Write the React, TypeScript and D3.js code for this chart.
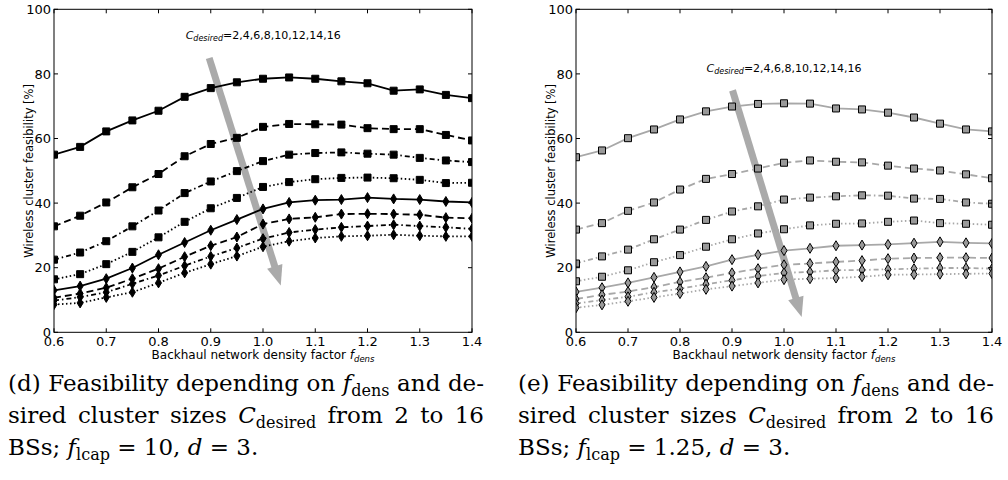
import React, { useEffect, useRef } from 'react';
import * as d3 from 'd3';

// Backhaul network density factor f_dens (x values shared by every series)
const fDens = [0.6, 0.65, 0.7, 0.75, 0.8, 0.85, 0.9, 0.95, 1.0, 1.05, 1.1, 1.15, 1.2, 1.25, 1.3, 1.35, 1.4];
const xTicks = [0.6, 0.7, 0.8, 0.9, 1.0, 1.1, 1.2, 1.3, 1.4];
const yTicks = [0, 20, 40, 60, 80, 100];
const clusterSizes = [2, 4, 6, 8, 10, 12, 14, 16];

// Wireless cluster feasibility [%], f_lcap = 10
const lcap10C2 = [55.0, 57.4, 62.2, 65.6, 68.6, 72.9, 75.6, 77.4, 78.5, 78.9, 78.5, 77.7, 77.1, 74.8, 75.2, 73.5, 72.5];
const lcap10C4 = [32.8, 36.1, 40.2, 44.9, 49.0, 54.5, 58.3, 60.2, 63.6, 64.5, 64.4, 64.3, 63.2, 62.9, 62.9, 61.1, 59.4];
const lcap10C6 = [22.5, 24.7, 28.2, 32.8, 37.7, 43.1, 46.7, 49.9, 53.0, 55.0, 55.5, 55.7, 55.3, 55.0, 54.0, 53.2, 52.7];
const lcap10C8 = [16.4, 18.0, 21.1, 24.9, 29.4, 34.2, 38.4, 41.6, 45.0, 46.5, 47.4, 47.8, 47.9, 47.7, 47.2, 46.2, 46.3];
const lcap10C10 = [13.0, 14.3, 16.6, 19.9, 24.0, 27.8, 31.6, 34.9, 38.2, 40.2, 40.9, 41.1, 41.7, 41.3, 41.1, 40.5, 40.2];
const lcap10C12 = [10.7, 12.0, 13.8, 16.6, 19.7, 23.4, 26.8, 29.5, 33.5, 35.1, 35.6, 36.6, 36.7, 36.6, 36.4, 35.5, 35.3];
const lcap10C14 = [9.8, 10.9, 12.4, 15.0, 17.6, 20.6, 23.5, 26.1, 29.0, 30.9, 31.8, 32.5, 32.9, 33.3, 32.9, 32.5, 32.0];
const lcap10C16 = [8.6, 9.1, 10.8, 12.4, 15.3, 18.4, 21.1, 23.6, 26.5, 28.2, 29.2, 29.7, 29.9, 30.2, 29.9, 29.7, 29.7];

// Wireless cluster feasibility [%], f_lcap = 1.25
const lcap125C2 = [54.2, 56.3, 60.1, 62.8, 65.9, 68.4, 69.9, 70.7, 70.9, 70.8, 69.3, 69.0, 68.0, 66.5, 64.6, 62.8, 62.2];
const lcap125C4 = [31.8, 33.8, 37.6, 40.2, 44.2, 47.5, 49.0, 50.7, 52.5, 53.2, 52.8, 52.6, 51.6, 50.7, 50.1, 48.9, 47.7];
const lcap125C6 = [21.3, 23.5, 25.6, 28.8, 31.8, 34.8, 37.4, 39.0, 41.1, 41.7, 42.1, 42.4, 42.3, 41.4, 41.3, 40.2, 39.8];
const lcap125C8 = [15.8, 17.2, 19.2, 21.7, 23.9, 26.5, 28.8, 30.6, 31.9, 33.1, 33.6, 33.7, 34.2, 34.6, 33.8, 33.6, 33.3];
const lcap125C10 = [12.5, 13.8, 15.3, 17.0, 18.7, 20.4, 22.5, 24.0, 25.3, 26.0, 26.8, 27.0, 27.2, 27.6, 28.0, 27.7, 27.5];
const lcap125C12 = [10.3, 11.6, 12.6, 14.0, 15.6, 16.9, 18.4, 19.7, 20.9, 21.3, 21.8, 22.2, 22.8, 23.0, 23.1, 23.1, 23.0];
const lcap125C14 = [8.9, 10.0, 11.0, 12.4, 13.5, 14.9, 16.1, 17.4, 18.4, 18.7, 19.2, 19.3, 19.5, 19.7, 19.9, 19.9, 19.7];
const lcap125C16 = [7.6, 8.5, 9.6, 10.8, 12.0, 13.3, 14.3, 15.3, 16.3, 16.6, 16.8, 17.2, 17.8, 17.9, 18.0, 18.1, 18.2];

// Trend arrow (start, tip) and annotation anchor, in data units
const arrowLcap10 = [[0.897, 84.9], [1.034, 14.5]];
const arrowLcap125 = [[0.901, 74.9], [1.034, 4.7]];
const noteAtLcap10 = [0.852, 90.9];
const noteAtLcap125 = [0.851, 80.6];

type Part = { t: string; kind?: 'it' | 'sub' };

const captionD: Part[][] = [
  [{ t: '(d) Feasibility depending on ' }, { t: 'f', kind: 'it' }, { t: 'dens', kind: 'sub' }, { t: ' and de-' }],
  [{ t: 'sired cluster sizes ' }, { t: 'C', kind: 'it' }, { t: 'desired', kind: 'sub' }, { t: ' from 2 to 16' }],
  [{ t: 'BSs; ' }, { t: 'f', kind: 'it' }, { t: 'lcap', kind: 'sub' }, { t: ' = 10, ' }, { t: 'd', kind: 'it' }, { t: ' = 3.' }],
];
const captionE: Part[][] = [
  [{ t: '(e) Feasibility depending on ' }, { t: 'f', kind: 'it' }, { t: 'dens', kind: 'sub' }, { t: ' and de-' }],
  [{ t: 'sired cluster sizes ' }, { t: 'C', kind: 'it' }, { t: 'desired', kind: 'sub' }, { t: ' from 2 to 16' }],
  [{ t: 'BSs; ' }, { t: 'f', kind: 'it' }, { t: 'lcap', kind: 'sub' }, { t: ' = 1.25, ' }, { t: 'd', kind: 'it' }, { t: ' = 3.' }],
];

const dashes = [null, '7,4', '5,3,1.5,3', '1.5,2.5'];
const squarePath = 'M-3.5,-3.5H3.5V3.5H-3.5Z';
const diamondPath = 'M0,-5L3,0L0,5L-3,0Z';

const SANS = 'DejaVu Sans, sans-serif';
const SERIF = 'DejaVu Serif, serif';

interface Panel {
  id: string;
  x0: number;
  x1: number;
  series: number[][];
  lineColor: string;
  markerFill: string;
  markerStroke: string;
  arrow: number[][];
  noteAt: number[];
  caption: Part[][];
  captionX: number;
}

const panels: Panel[] = [
  {
    id: 'lcap10',
    x0: 54,
    x1: 472,
    series: [lcap10C2, lcap10C4, lcap10C6, lcap10C8, lcap10C10, lcap10C12, lcap10C14, lcap10C16],
    lineColor: '#000',
    markerFill: '#000',
    markerStroke: '#000',
    arrow: arrowLcap10,
    noteAt: noteAtLcap10,
    caption: captionD,
    captionX: 8,
  },
  {
    id: 'lcap125',
    x0: 576,
    x1: 992,
    series: [lcap125C2, lcap125C4, lcap125C6, lcap125C8, lcap125C10, lcap125C12, lcap125C14, lcap125C16],
    lineColor: '#a8a8a8',
    markerFill: '#999',
    markerStroke: '#000',
    arrow: arrowLcap125,
    noteAt: noteAtLcap125,
    caption: captionE,
    captionX: 518,
  },
];

const TOP = 9.3;
const BOTTOM = 332.3;
const CAPTION_WIDTH = 476;
const CAPTION_BASELINES = [391, 423, 455];

function drawPanel(svg: d3.Selection<SVGSVGElement, unknown, null, undefined>, p: Panel) {
  const x = d3.scaleLinear().domain([0.6, 1.4]).range([p.x0, p.x1]);
  const y = d3.scaleLinear().domain([0, 100]).range([BOTTOM, TOP]);
  const g = svg.append('g');

  g.append('clipPath')
    .attr('id', `clip-${p.id}`)
    .append('rect')
    .attr('x', p.x0)
    .attr('y', TOP)
    .attr('width', p.x1 - p.x0)
    .attr('height', BOTTOM - TOP);

  const plot = g.append('g').attr('clip-path', `url(#clip-${p.id})`);

  // grey trend arrow, drawn beneath the series
  const a0 = [x(p.arrow[0][0]), y(p.arrow[0][1])];
  const a1 = [x(p.arrow[1][0]), y(p.arrow[1][1])];
  const dx = a1[0] - a0[0];
  const dy = a1[1] - a0[1];
  const len = Math.hypot(dx, dy);
  const ux = dx / len;
  const uy = dy / len;
  const headLen = 20;
  const headW = 16;
  const bx = a1[0] - ux * headLen;
  const by = a1[1] - uy * headLen;
  plot
    .append('line')
    .attr('x1', a0[0])
    .attr('y1', a0[1])
    .attr('x2', bx + ux)
    .attr('y2', by + uy)
    .attr('stroke', '#aaaaaa')
    .attr('stroke-width', 7);
  plot
    .append('path')
    .attr(
      'd',
      `M${bx - uy * headW / 2},${by + ux * headW / 2}L${a1[0]},${a1[1]}L${bx + uy * headW / 2},${by - ux * headW / 2}Z`
    )
    .attr('fill', '#aaaaaa');

  const line = d3
    .line<number>()
    .x((_, i) => x(fDens[i]))
    .y((v) => y(v));

  p.series.forEach((vals, si) => {
    const dash = dashes[si % 4];
    const path = plot
      .append('path')
      .attr('d', line(vals))
      .attr('fill', 'none')
      .attr('stroke', p.lineColor)
      .attr('stroke-width', 1.8);
    if (dash) path.attr('stroke-dasharray', dash);
  });

  p.series.forEach((vals, si) => {
    const shape = si < 4 ? squarePath : diamondPath;
    plot
      .append('g')
      .selectAll('path')
      .data(vals)
      .join('path')
      .attr('d', shape)
      .attr('transform', (v, i) => `translate(${x(fDens[i])},${y(v)})`)
      .attr('fill', p.markerFill)
      .attr('stroke', p.markerStroke)
      .attr('stroke-width', 1);
  });

  // frame and inward ticks on all four sides
  g.append('rect')
    .attr('x', p.x0)
    .attr('y', TOP)
    .attr('width', p.x1 - p.x0)
    .attr('height', BOTTOM - TOP)
    .attr('fill', 'none')
    .attr('stroke', '#000')
    .attr('stroke-width', 1);

  const tick = 4;
  xTicks.forEach((t) => {
    const px = x(t);
    g.append('line').attr('x1', px).attr('x2', px).attr('y1', BOTTOM).attr('y2', BOTTOM - tick).attr('stroke', '#000');
    g.append('line').attr('x1', px).attr('x2', px).attr('y1', TOP).attr('y2', TOP + tick).attr('stroke', '#000');
    g.append('text')
      .attr('x', px)
      .attr('y', 346)
      .attr('text-anchor', 'middle')
      .attr('font-family', SANS)
      .attr('font-size', 13)
      .text(d3.format('.1f')(t));
  });
  yTicks.forEach((t) => {
    const py = y(t);
    g.append('line').attr('x1', p.x0).attr('x2', p.x0 + tick).attr('y1', py).attr('y2', py).attr('stroke', '#000');
    g.append('line').attr('x1', p.x1).attr('x2', p.x1 - tick).attr('y1', py).attr('y2', py).attr('stroke', '#000');
    g.append('text')
      .attr('x', p.x0 - 3)
      .attr('y', py + 4.6)
      .attr('text-anchor', 'end')
      .attr('font-family', SANS)
      .attr('font-size', 13)
      .text(String(t));
  });

  // axis titles
  const xl = g
    .append('text')
    .attr('x', (p.x0 + p.x1) / 2)
    .attr('y', 359)
    .attr('text-anchor', 'middle')
    .attr('font-family', SANS)
    .attr('font-size', 12);
  xl.append('tspan').text('Backhaul network density factor ');
  xl.append('tspan').attr('font-style', 'italic').text('f');
  xl.append('tspan').attr('font-style', 'italic').attr('font-size', 8.5).attr('dy', 3).text('dens');

  g.append('text')
    .attr('transform', `translate(${p.x0 - 21},${(TOP + BOTTOM) / 2}) rotate(-90)`)
    .attr('text-anchor', 'middle')
    .attr('font-family', SANS)
    .attr('font-size', 11.5)
    .text('Wireless cluster feasibility [%]');

  // cluster size annotation
  const note = g
    .append('text')
    .attr('x', x(p.noteAt[0]))
    .attr('y', y(p.noteAt[1]))
    .attr('font-family', SANS)
    .attr('font-size', 11);
  note.append('tspan').attr('font-style', 'italic').text('C');
  note.append('tspan').attr('font-style', 'italic').attr('font-size', 8).attr('dy', 2.5).text('desired');
  note.append('tspan').attr('dy', -2.5).text('=' + clusterSizes.join(','));

  // caption below the panel
  p.caption.forEach((parts, li) => {
    const txt = svg
      .append('text')
      .attr('x', p.captionX)
      .attr('y', CAPTION_BASELINES[li])
      .attr('font-family', SERIF)
      .attr('font-size', 23)
      .attr('fill', '#000');
    let shift = 0;
    parts.forEach((part) => {
      const ts = txt.append('tspan');
      const target = part.kind === 'sub' ? 5 : 0;
      if (target !== shift) {
        ts.attr('dy', target - shift);
        shift = target;
      }
      if (part.kind === 'it') ts.attr('font-style', 'italic');
      if (part.kind === 'sub') ts.attr('font-size', 16);
      ts.text(part.t);
    });
    if (li < 2) {
      const node = txt.node() as SVGTextElement;
      const natural = node.getComputedTextLength();
      const spaces = (node.textContent || '').split(' ').length - 1;
      if (spaces > 0) txt.attr('word-spacing', (CAPTION_WIDTH - natural) / spaces);
    }
  });
}

export default function App() {
  const ref = useRef<SVGSVGElement>(null);

  useEffect(() => {
    if (!ref.current) return;
    const svg = d3.select(ref.current);
    svg.selectAll('*').remove();
    svg.append('rect').attr('width', 1008).attr('height', 480).attr('fill', '#fff');
    panels.forEach((p) => drawPanel(svg, p));
  }, []);

  return (
    <svg
      ref={ref}
      width={1008}
      height={480}
      viewBox="0 0 1008 480"
      style={{ position: 'absolute', left: 0, top: 0, display: 'block' }}
    />
  );
}
